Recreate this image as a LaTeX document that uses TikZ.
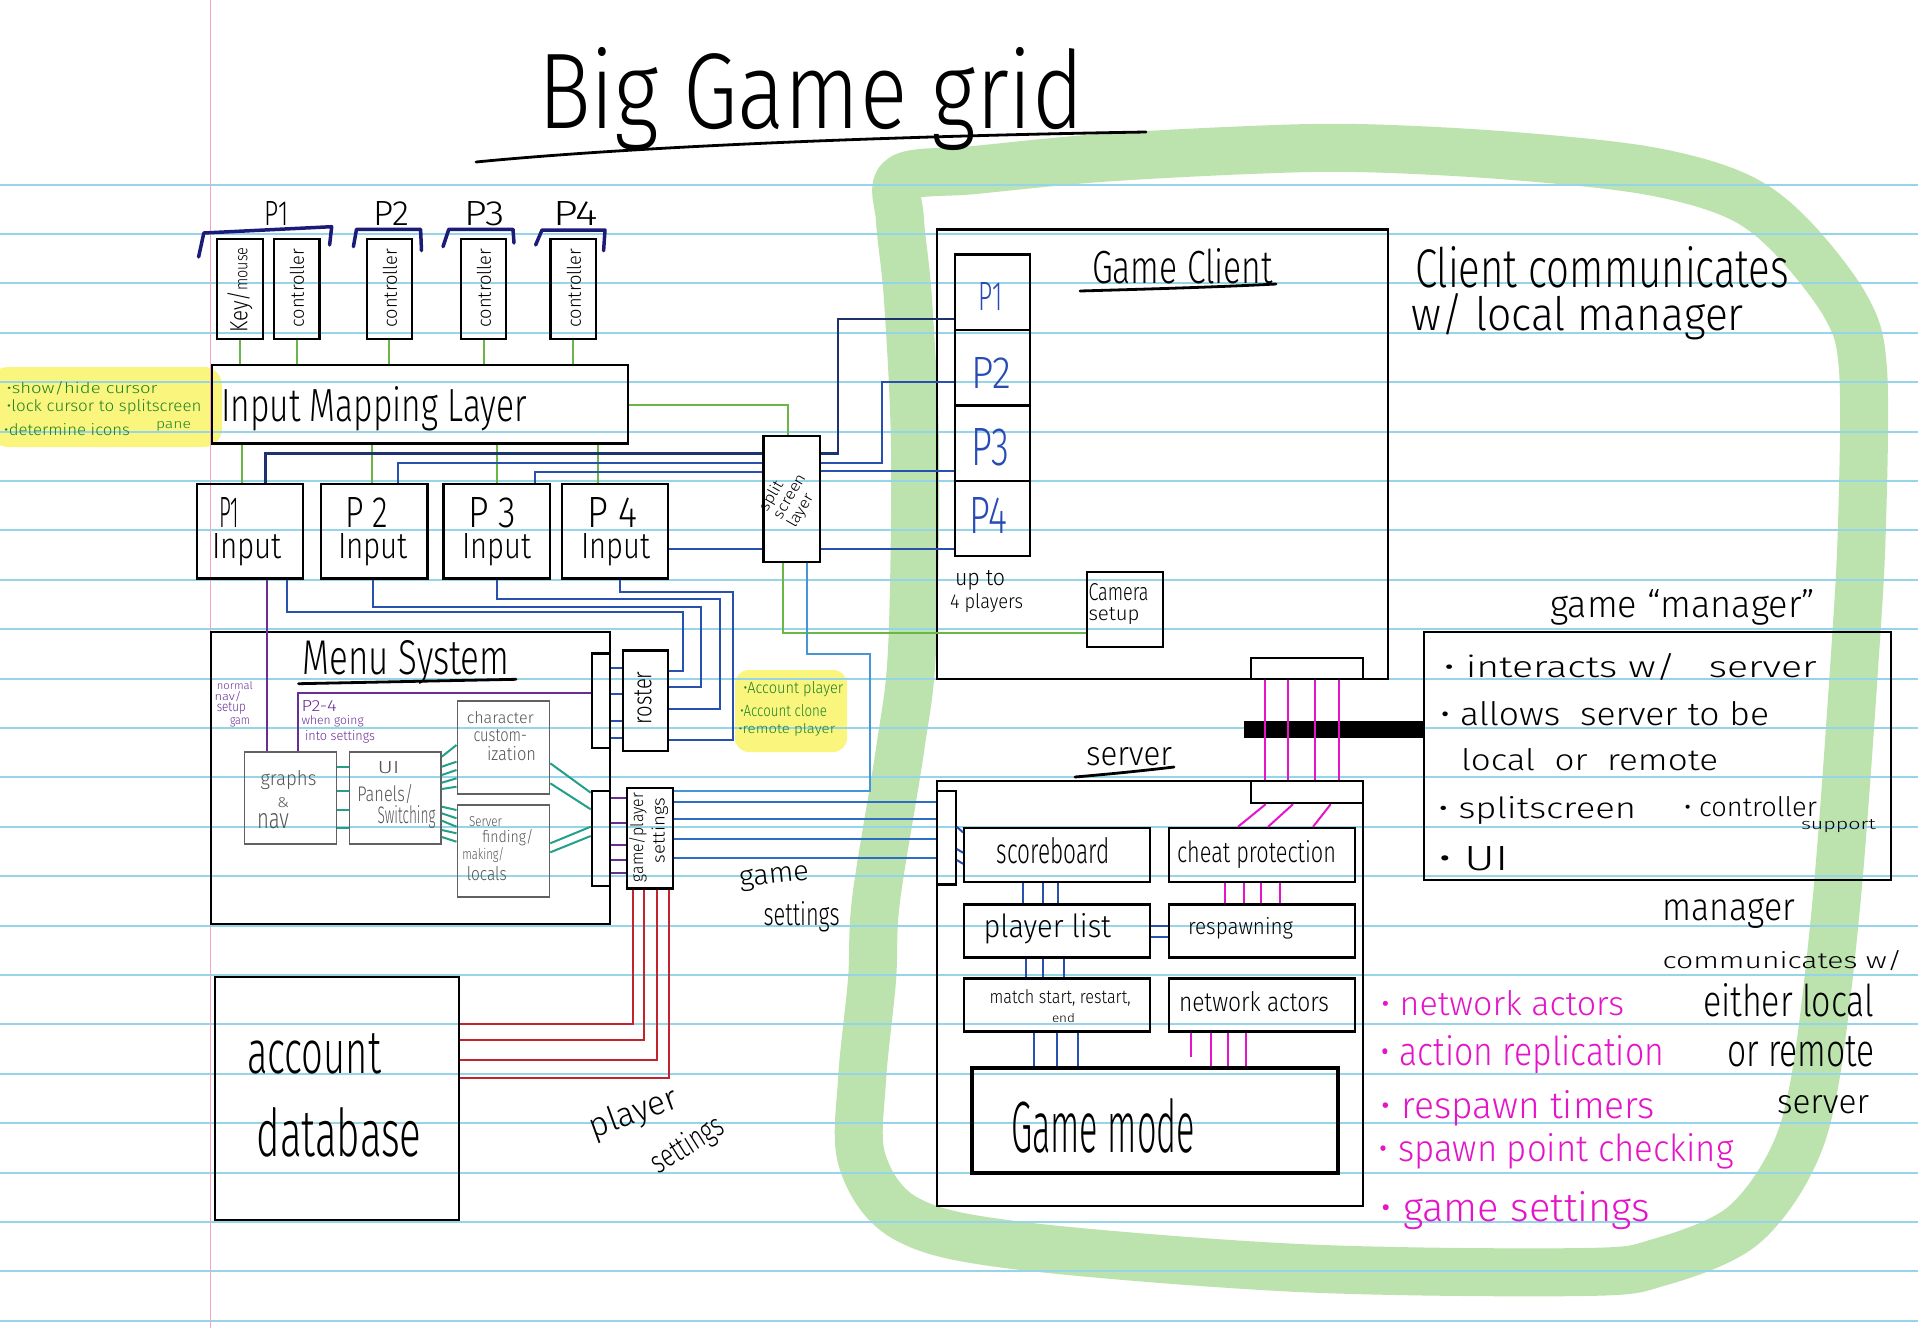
\documentclass[tikz,border=0pt]{standalone}
\usepackage{graphicx}
\usepackage{fontspec}
\setmainfont{Fira Sans Light}
\usetikzlibrary{calc}
\definecolor{cgreen}{RGB}{108,182,72}
\definecolor{cblue}{RGB}{40,80,175}
\definecolor{cnavy}{RGB}{30,50,110}
\definecolor{clblue}{RGB}{70,150,215}
\definecolor{cmblue}{RGB}{45,110,195}
\definecolor{cpurp}{RGB}{105,45,150}
\definecolor{cteal}{RGB}{35,160,135}
\definecolor{cred}{RGB}{195,35,45}
\definecolor{cmag}{RGB}{228,20,200}
\definecolor{cgtext}{RGB}{30,130,40}
\definecolor{cgrey}{RGB}{85,85,85}
\definecolor{cptxt}{RGB}{40,75,180}
\definecolor{cbrk}{RGB}{28,28,120}
\definecolor{cring}{RGB}{188,226,174}
\definecolor{chl}{RGB}{249,245,125}
\definecolor{cruled}{RGB}{150,212,232}
\definecolor{cmargin}{RGB}{240,165,195}
\newcommand\hw[3]{\resizebox{#1pt}{#2pt}{#3}}
\newcommand\txl[7][]{\node[lbl,anchor=base west,#1] (#2) at (#3,#4) {\hw{#5}{#6}{#7}};}
\newcommand\txr[7][]{\node[lbl,anchor=center,#1] (#2) at (#3,#4) {\hw{#5}{#6}{#7}};}
\newcommand\mkbox[6][bx]{\node[#1,minimum width={(#5)-(#3)},minimum height={(#6)-(#4)}] (#2) at (#3,#4) {};}
\begin{document}
\begin{tikzpicture}[x=1pt,y=-1pt,
  bx/.style={draw=black,line width=2.2pt,inner sep=0pt,anchor=north west},
  tb/.style={draw=black,line width=4pt,inner sep=0pt,anchor=north west},
  gb/.style={draw=black!62,line width=1.8pt,inner sep=0pt,anchor=north west},
  lbl/.style={inner sep=0pt,outer sep=0pt},
  gl/.style={draw=cgreen,line width=2pt},
  bl/.style={draw=cblue,line width=2pt},
  dl/.style={draw=cnavy,line width=2.4pt},
  ll/.style={draw=clblue,line width=2pt},
  ml/.style={draw=cmblue,line width=2pt},
  pl/.style={draw=cpurp,line width=2pt},
  tl/.style={draw=cteal,line width=2pt},
  rl/.style={draw=cred,line width=2pt},
  mgl/.style={draw=cmag,line width=2pt},
  brk/.style={draw=cbrk,line width=3.5pt,line join=round,line cap=round},
  uline/.style={draw=black,line width=2.8pt,line cap=round}]
% background, ring, highlights, ruled paper
\fill[white] (0,0) rectangle (1918,1328);
\useasboundingbox (0,0) rectangle (1918,1328);
\draw[cring,line width=48pt,line join=round] plot[smooth cycle,tension=0.55] coordinates {
 (902,178) (975,170) (1100,158) (1250,150) (1357,148) (1500,155) (1644,170) (1735,195)
 (1790,235) (1846,307) (1863,370) (1862,524) (1855,654) (1837,896) (1815,1080) (1790,1163)
 (1740,1228) (1660,1262) (1584,1272) (1299,1268) (1014,1245) (905,1218) (862,1160) (862,1080)
 (872,980) (876,900) (900,750) (912,650) (915,450) (908,300) (900,220)};
\fill[chl,rounded corners=18pt] (-10,367) rectangle (222,447);
\fill[chl,rounded corners=14pt] (735,670) rectangle (847,752);
\foreach \k in {0,...,23}{\draw[cruled,line width=2pt] (0,{184.5+49.4*\k}) -- (1918,{184.5+49.4*\k});}
\draw[cmargin,line width=1.6pt] (210.5,0) -- (210.5,1328);
% title
\txl{title}{538}{128}{546}{81}{Big Game grid}
\draw[uline] (476,162) .. controls (640,146) and (900,136) .. (1146,132);
% controllers
\mkbox{km}{216}{238}{261.5}{338}
\mkbox{c1}{272.8}{238}{318.3}{338}
\mkbox{c2}{365.6}{238}{411}{338}
\mkbox{c3}{459.7}{238}{505.2}{338}
\mkbox{c4}{549.4}{238}{595}{338}
\txr[rotate=90]{tkm}{240}{290}{85}{20}{Key/\scriptsize mouse}
\txr[rotate=90]{tc1}{297}{288}{79}{14}{controller}
\txr[rotate=90]{tc2}{390}{288}{79}{14}{controller}
\txr[rotate=90]{tc3}{484}{288}{79}{14}{controller}
\txr[rotate=90]{tc4}{574}{288}{79}{14}{controller}
\draw[brk] (198.6,257) -- (203.8,233) -- (331.7,226.7) -- (329.6,245);
\draw[brk] (353.4,246.7) -- (356.5,229.3) -- (420.6,229.3) -- (421.5,250.7);
\draw[brk] (443,246.7) -- (448.8,229.3) -- (513,229.3) -- (514,243);
\draw[brk] (535.6,245) -- (542,230) -- (605,230) -- (603.6,250.7);
\txl{lp1}{264.5}{225.5}{24}{24}{P1}
\txl{lp2}{373.8}{225.5}{36}{24}{P2}
\txl{lp3}{464}{225.5}{41}{24}{P3}
\txl{lp4}{553}{225.5}{45}{24}{P4}
% input mapping layer
\mkbox{iml}{210.8}{363.5}{626.6}{442.3}
\txl{timl}{221}{421.7}{306}{35}{Input Mapping Layer}
\txl[text=cgtext]{y1}{6.5}{393.3}{151}{12}{•show/hide cursor}
\txl[text=cgtext]{y2}{6.5}{411.7}{195}{12}{•lock cursor to splitscreen}
\txl[text=cgtext]{y3}{156}{428.3}{35}{7}{pane}
\txl[text=cgtext]{y4}{4}{435}{126}{12}{•determine icons}
% player inputs
\mkbox{p1in}{196}{482.7}{302}{577.3}
\mkbox{p2in}{320}{482.7}{426.3}{577.3}
\mkbox{p3in}{442.3}{482.7}{548.6}{577.3}
\mkbox{p4in}{560.5}{482.7}{666.7}{577.3}
\txl{tp1}{219}{527}{20}{30}{P1}
\txl{tp2}{345}{527}{43}{30}{P 2}
\txl{tp3}{468}{527}{48}{30}{P 3}
\txl{tp4}{587.6}{527}{50}{30}{P 4}
\txl{ti1}{212}{558.3}{70}{25}{Input}
\txl{ti2}{338}{558.3}{70}{25}{Input}
\txl{ti3}{462}{558.3}{69}{25}{Input}
\txl{ti4}{581}{558.3}{69}{25}{Input}
% split screen layer
\mkbox{ssl}{762.3}{435}{818.7}{560.7}
\txr[rotate=60]{tssl}{790}{497}{50}{44}{\shortstack[l]{split\\screen\\layer}}
% game client
\mkbox{gc}{936}{228.3}{1386.8}{678}
\mkbox{gp1}{953.5}{253.3}{1029}{329}
\mkbox{gp2}{953.5}{329}{1029}{404.3}
\mkbox{gp3}{953.5}{404.3}{1029}{480}
\mkbox{gp4}{953.5}{480}{1029}{555}
\txl[text=cptxt]{tgp1}{978.5}{310}{24}{28}{P1}
\txl[text=cptxt]{tgp2}{971.5}{388}{40}{31}{P2}
\txl[text=cptxt]{tgp3}{971.5}{465}{38}{37}{P3}
\txl[text=cptxt]{tgp4}{969}{533}{38}{36}{P4}
\txl{tgc}{1092}{283}{181}{35}{Game Client}
\draw[uline] (1080,291) .. controls (1150,289) and (1220,287) .. (1276,284);
\txl{tup1}{955}{585}{50}{15}{up to}
\txl{tup2}{950}{608}{73}{15}{4 players}
\mkbox{cam}{1086}{570.7}{1161.7}{646}
\txl{tcam1}{1088.5}{600}{60}{17}{Camera}
\txl{tcam2}{1088.5}{620}{51}{13}{setup}
\mkbox{gcc}{1249.6}{656.6}{1362}{678}
% client / manager notes
\txl{tcc1}{1415}{287}{374}{41}{Client communicates}
\txl{tcc2}{1411.6}{330.6}{332}{37}{w/ local manager}
\mkbox{mgr}{1422.5}{630.5}{1890}{879}
\txl{tmgt}{1550}{617}{265}{28}{game ``manager''}
\txl{tm1}{1443.6}{677.5}{373}{24}{• interacts w/\ \ \ server}
\txl{tm2}{1440}{725}{329}{24}{• allows\ \ server to be}
\txl{tm3}{1461}{770.7}{257}{22}{local\ \ or\ \ remote}
\txl{tm4}{1438}{818.4}{198}{22}{• splitscreen}
\txl{tm5}{1683.8}{816}{133}{20}{• controller}
\txl{tm6}{1801}{829}{75}{10}{support}
\txl{tm7}{1438}{870.5}{71}{24}{• UI}
% server
\mkbox{srv}{936}{779.5}{1361.8}{1205}
\mkbox{scc}{1249.6}{779.5}{1362}{802}
\txl{tsrv}{1086}{765}{86}{18}{server}
\draw[uline] (1075,777) .. controls (1110,774) and (1140,771) .. (1174,767);
\mkbox{sbar}{936}{790}{954.6}{883.4}
\mkbox{sb}{963}{826.8}{1149}{880.5}
\mkbox{cp}{1167.5}{826.8}{1354}{880.5}
\mkbox{pli}{963}{903.4}{1149}{956.3}
\mkbox{rsp}{1167.5}{903.4}{1354}{956.3}
\mkbox{msr}{963}{977.4}{1149}{1030.3}
\mkbox{nac}{1167.5}{977.4}{1354}{1030.3}
\mkbox[tb]{gm}{970}{1066}{1336}{1171}
\txl{tsb}{996.8}{863}{112.5}{26}{scoreboard}
\txl{tcp}{1177}{862}{159}{22}{cheat protection}
\txl{tpli}{983.6}{937.8}{127.5}{24}{player list}
\txl{trsp}{1188}{934}{105}{17}{respawning}
\txl{tmsr}{989.6}{1003}{141}{14}{match start, restart,}
\txl{tend}{1052}{1022}{23}{9}{end}
\txl{tnac}{1179}{1011.8}{150}{20}{network actors}
\txl{tgm}{1011}{1152.4}{184}{54}{Game mode}
% bar between client/server and manager
\coordinate (barL) at (1244,729);
\draw[line width=17pt] (barL) -- (mgr.west |- barL);
\foreach \x in {1264.6,1287.9,1314.6,1338.6} \draw[mgl] (gcc.south -| \x,0) -- (scc.north -| \x,0);
\draw[mgl] (scc.south -| 1265.7,0) -- (cp.north -| 1237.9,0);
\draw[mgl] (scc.south -| 1293,0) -- (cp.north -| 1268,0);
\draw[mgl] (scc.south -| 1330.7,0) -- (cp.north -| 1313,0);
\foreach \x in {1022.9,1043.2,1057.5} \draw[bl] (sb.south -| \x,0) -- (pli.north -| \x,0);
\foreach \x in {1026,1043.2,1063.6} \draw[bl] (pli.south -| \x,0) -- (msr.north -| \x,0);
\foreach \x in {1033.6,1056.8,1077.9} \draw[bl] (msr.south -| \x,0) -- (gm.north -| \x,0);
\foreach \y in {925.6,937} \draw[bl] (pli.east |- 0,\y) -- (rsp.west |- 0,\y);
\foreach \x in {1224.6,1244,1261,1279.6} \draw[mgl] (cp.south -| \x,0) -- (rsp.north -| \x,0);
\foreach \x in {1211,1227.9,1246} \draw[mgl] (nac.south -| \x,0) -- (gm.north -| \x,0);
\draw[mgl] (nac.south -| 1191.4,0) -- ++(0,24);
\draw[bl] (sbar.east |- 0,826.8) -- (sb.west |- 0,832.4);
\draw[bl] (sbar.east |- 0,849) -- (sb.west |- 0,852.7);
\draw[bl] (sbar.east |- 0,860) -- (sb.west |- 0,863.8);
% right-hand notes
\txl{tbr1}{1662.5}{920}{132.5}{22}{manager}
\txl{tbr2}{1662.5}{968.3}{240}{18}{communicates w/}
\txl{tbr3}{1703}{1016.7}{171.5}{33}{either local}
\txl{tbr4}{1727}{1066.7}{147.5}{30}{or remote}
\txl{tbr5}{1777}{1113.3}{92}{18}{server}
\txl[text=cmag]{mk1}{1380.5}{1015}{243.5}{25}{• network actors}
\txl[text=cmag]{mk2}{1380.5}{1065}{283.5}{30}{• action replication}
\txl[text=cmag]{mk3}{1380.5}{1118.3}{274.5}{28}{• respawn timers}
\txl[text=cmag]{mk4}{1378.7}{1161.7}{355}{28}{• spawn point checking}
\txl[text=cmag]{mk5}{1380.5}{1221.7}{269.5}{30}{• game settings}
% menu system
\mkbox{menu}{210}{630.6}{608.6}{922.6}
\txl{tmenu}{302.5}{674}{207}{34}{Menu System}
\draw[uline] (298.6,683.7) -- (516,679.3);
\mkbox{rbar}{590.7}{652.3}{609}{746.7}
\mkbox{ros}{621.7}{649.3}{666.7}{750}
\txr[rotate=90]{tros}{643}{698}{53}{17}{roster}
\mkbox{gpbar}{590.7}{790}{609}{885}
\mkbox{gps}{626}{786.7}{671.7}{887.3}
\txr[rotate=90]{tgps1}{638}{837.5}{89}{14}{game/player}
\txr[rotate=90]{tgps2}{660}{830.5}{65}{13}{settings}
\mkbox[gb]{gn}{243.6}{750.7}{335.5}{842.7}
\mkbox[gb]{uip}{348.5}{750.7}{440}{842.7}
\mkbox[gb]{chc}{456.5}{700}{548.5}{792.7}
\mkbox[gb]{sfd}{456.5}{804}{548.5}{896}
\txl[text=cgrey]{tgn1}{260.5}{785}{56}{15}{graphs}
\txl[text=cgrey]{tgn2}{277}{807}{12}{10}{\&}
\txl[text=cgrey]{tgn3}{257}{828}{32}{15}{nav}
\txl[text=cgrey]{tui1}{377.5}{773.3}{22}{12}{UI}
\txl[text=cgrey]{tui2}{357.4}{801.7}{56}{17}{Panels/}
\txl[text=cgrey]{tui3}{377.5}{823}{58}{18}{Switching}
\txl[text=cgrey]{tch1}{466.8}{723.3}{67}{12}{character}
\txl[text=cgrey]{tch2}{473.5}{741.7}{53.5}{12}{custom-}
\txl[text=cgrey]{tch3}{487}{760}{49}{14}{ization}
\txl[text=cgrey]{tsf1}{469}{826}{33}{10}{Server}
\txl[text=cgrey]{tsf2}{482.4}{842}{51}{13}{finding/}
\txl[text=cgrey]{tsf3}{462.3}{859}{42}{12}{making/}
\txl[text=cgrey]{tsf4}{466.8}{880}{40}{14}{locals}
\txl[text=cpurp]{tnn1}{216.8}{689}{36}{8}{normal}
\txl[text=cpurp]{tnn2}{214.5}{700}{27}{9}{nav/}
\txl[text=cpurp]{tnn3}{216.8}{711}{29}{9}{setup}
\txl[text=cpurp]{tnn4}{230}{724}{20}{7}{gam}
\txl[text=cpurp]{tpp1}{301.6}{711}{35}{11}{P2-4}
\txl[text=cpurp]{tpp2}{301.6}{724}{62}{9}{when going}
\txl[text=cpurp]{tpp3}{305}{740}{70}{10}{into settings}
\txl[text=cgtext]{ya1}{743.3}{693.3}{100}{12}{•Account player}
\txl[text=cgtext]{ya2}{740}{716.7}{87}{12}{•Account clone}
\txl[text=cgtext]{ya3}{738.3}{733.3}{97}{10}{•remote player}
\txl[rotate=6]{tgs1}{740}{886.7}{70}{16}{game}
\txl{tgs2}{763.6}{925}{76}{24}{settings}
% account database
\mkbox{acct}{213.7}{976}{457.5}{1218.6}
\txl{tac1}{247}{1073}{134}{40}{account}
\txl{tac2}{256.5}{1156}{165}{49}{database}
\txr[rotate=20]{tps1}{634}{1114}{92}{25}{player}
\txr[rotate=32]{tps2}{688}{1146}{80}{24}{settings}
% connectors: green
\foreach \n in {km,c1,c2,c3,c4} \draw[gl] (\n.south) -- (\n.south |- iml.north);
\foreach \n/\x in {p1in/241.5,p2in/371.6,p3in/497,p4in/598} \draw[gl] (iml.south -| \x,0) -- (\n.north -| \x,0);
\draw[gl] (iml.east |- 0,405) -| (ssl.north -| 788.3,0);
\draw[gl] (ssl.south -| 782.7,0) |- (cam.west |- 0,632.7);
% inputs to split screen layer
\draw[dl] (p1in.north -| 265.4,0) |- (ssl.west |- 0,453.3);
\draw[bl] (p2in.north -| 398,0) |- (ssl.west |- 0,463.3);
\draw[bl] (p3in.north -| 534.7,0) |- (ssl.west |- 0,471.7);
\draw[bl] (p4in.east |- 0,549) -- (ssl.west |- 0,549);
\draw[dl] (ssl.east |- 0,453.3) -| (837.7,319) -- (gp1.west |- 0,319);
\draw[bl] (ssl.east |- 0,463.3) -| (882.3,381.7) -- (gp2.west |- 0,381.7);
\draw[bl] (ssl.east |- 0,470.7) -- (gp3.west |- 0,470.7);
\draw[bl] (ssl.east |- 0,549) -- (gp4.west |- 0,549);
\draw[ll] (ssl.south -| 806.5,0) |- (870,654.3) |- (gps.east |- 0,790.7);
% inputs to roster
\draw[bl] (p1in.south -| 287,0) |- (683.3,612) |- (ros.east |- 0,670.7);
\draw[bl] (p2in.south -| 373.3,0) |- (701,606.7) |- (ros.east |- 0,687.3);
\draw[bl] (p3in.south -| 496.9,0) |- (719.6,599) |- (ros.east |- 0,709);
\draw[bl] (p4in.south -| 620,0) |- (733,592) |- (ros.east |- 0,740);
\foreach \y in {667.7,694.3,721,737.7} \draw[bl] (rbar.east |- 0,\y) -- (ros.west |- 0,\y);
% purple
\draw[pl] (p1in.south -| 267,0) -- (gn.north -| 267,0);
\draw[pl] (gn.north -| 298,0) |- (rbar.west |- 0,693.3);
\foreach \y in {798.3,823.3,845,860,873.3} \draw[pl] (gpbar.east |- 0,\y) -- (gps.west |- 0,\y);
% teal
\foreach \y in {767.3,791,810,828.3} \draw[tl] (gn.east |- 0,\y) -- (uip.west |- 0,\y);
\foreach \a/\b in {756.7/745,766.7/761.7,775/770,782.7/778.3,789/786.7} \draw[tl] (uip.east |- 0,\a) -- (chc.west |- 0,\b);
\foreach \a/\b in {806.7/810,813.3/818.3,820.7/826.7,830/833.3,837/841.7} \draw[tl] (uip.east |- 0,\a) -- (sfd.west |- 0,\b);
\draw[tl] (chc.east |- 0,763.3) -- (gpbar.west |- 0,792.7);
\draw[tl] (chc.east |- 0,783.3) -- (gpbar.west |- 0,809.3);
\draw[tl] (sfd.east |- 0,843.3) -- (gpbar.west |- 0,826.7);
\draw[tl] (sfd.east |- 0,852.3) -- (gpbar.west |- 0,836);
% game settings to server
\foreach \y in {801.7,819,839,858.3} \draw[ml] (gps.east |- 0,\y) -- (sbar.west |- 0,\y);
% red player settings
\draw[rl] (gps.south -| 632.7,0) |- (acct.east |- 0,1024);
\draw[rl] (gps.south -| 643.8,0) |- (acct.east |- 0,1040);
\draw[rl] (gps.south -| 657.2,0) |- (acct.east |- 0,1060);
\draw[rl] (gps.south -| 668.7,0) |- (acct.east |- 0,1078);
\end{tikzpicture}
\end{document}
